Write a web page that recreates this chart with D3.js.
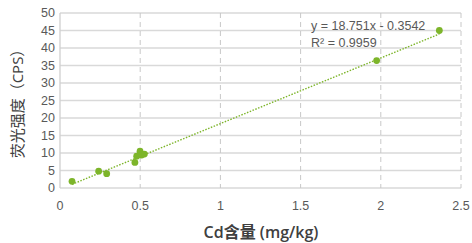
<!DOCTYPE html>
<html>
<head>
<meta charset="utf-8">
<script src="https://cdn.jsdelivr.net/npm/d3@7"></script>
<style>
  body { margin: 0; background: #fff; }
  text { font-family: "Liberation Sans", "Noto Sans CJK SC", sans-serif; }
  .title { font-family: "Open Sans", "Noto Sans CJK SC", sans-serif; }
</style>
</head>
<body>
<svg id="chart" width="472" height="243"></svg>
<script>
'use strict'

// measured points (Cd mg/kg, CPS)
const cdValues = [0.075, 0.241, 0.291, 0.467, 0.478, 0.499, 0.509, 0.526, 1.974, 2.365]
const cpsValues = [1.9, 4.8, 4.1, 7.3, 9.1, 10.5, 9.4, 9.7, 36.4, 45.0]
const xTicks = [0, 0.5, 1, 1.5, 2, 2.5]
const yTicks = [0, 5, 10, 15, 20, 25, 30, 35, 40, 45, 50]
const slope = 18.751
const intercept = -0.3542
const eqLines = ['y = 18.751x - 0.3542', 'R² = 0.9959']

const green = '#7db52a'
const margin = { top: 13, right: 11, bottom: 55, left: 60 }
const width = 472 - margin.left - margin.right
const height = 243 - margin.top - margin.bottom

const svg = d3.select('#chart')
const g = svg.append('g')
  .attr('transform', 'translate(' + margin.left + ',' + margin.top + ')')

const x = d3.scaleLinear().domain([0, 2.5]).range([0, width])
const y = d3.scaleLinear().domain([0, 50]).range([height, 0])

// horizontal grid
g.selectAll('.hgrid')
  .data(yTicks)
  .enter()
  .append('line')
  .attr('x1', 0)
  .attr('x2', width)
  .attr('y1', d => y(d))
  .attr('y2', d => y(d))
  .attr('stroke', '#d9d9d9')
  .attr('stroke-width', 1.3)

// vertical dashed grid
g.selectAll('.vgrid')
  .data(xTicks.slice(1))
  .enter()
  .append('line')
  .attr('x1', d => x(d))
  .attr('x2', d => x(d))
  .attr('y1', 0)
  .attr('y2', height)
  .attr('stroke', '#c8c8c8')
  .attr('stroke-width', 1)
  .attr('stroke-dasharray', '5,4')

g.append('line')
  .attr('x1', 0).attr('x2', 0)
  .attr('y1', 0).attr('y2', height)
  .attr('stroke', '#d0d0d0')
  .attr('stroke-width', 1.3)

// tick labels
g.selectAll('.ylab')
  .data(yTicks)
  .enter()
  .append('text')
  .attr('x', -5)
  .attr('y', d => y(d))
  .attr('dy', '0.35em')
  .attr('text-anchor', 'end')
  .attr('font-size', '12.5px')
  .attr('fill', '#595959')
  .text(d => d)

g.selectAll('.xlab')
  .data(xTicks)
  .enter()
  .append('text')
  .attr('x', d => x(d))
  .attr('y', height + 18)
  .attr('dy', '0.35em')
  .attr('text-anchor', 'middle')
  .attr('font-size', '12.5px')
  .attr('fill', '#595959')
  .text(d => d)

// trendline over the data range
const xMin = d3.min(cdValues)
const xMax = d3.max(cdValues)
g.append('line')
  .attr('x1', x(xMin))
  .attr('y1', y(slope * xMin + intercept))
  .attr('x2', x(xMax))
  .attr('y2', y(slope * xMax + intercept))
  .attr('stroke', green)
  .attr('stroke-width', 1.4)
  .attr('stroke-dasharray', '1.5,1.5')

// points
g.selectAll('.pt')
  .data(cdValues.map((c, i) => [c, cpsValues[i]]))
  .enter()
  .append('circle')
  .attr('cx', d => x(d[0]))
  .attr('cy', d => y(d[1]))
  .attr('r', 3.4)
  .attr('fill', green)

// equation
g.selectAll('.eq')
  .data(eqLines)
  .enter()
  .append('text')
  .attr('x', 251)
  .attr('y', (d, i) => 16.5 + i * 17)
  .attr('font-size', '12.5px')
  .attr('fill', '#595959')
  .text(d => d)

// axis titles
svg.append('text')
  .attr('class', 'title')
  .attr('x', 261)
  .attr('y', 238)
  .attr('text-anchor', 'middle')
  .attr('font-size', '16px')
  .attr('font-weight', 600)
  .attr('fill', '#404040')
  .text('Cd含量 (mg/kg)')

svg.append('text')
  .attr('class', 'title')
  .attr('transform', 'translate(23,100) rotate(-90)')
  .attr('text-anchor', 'middle')
  .attr('font-size', '15px')
  .attr('fill', '#404040')
  .text('荧光强度（CPS）')
</script>
</body>
</html>
